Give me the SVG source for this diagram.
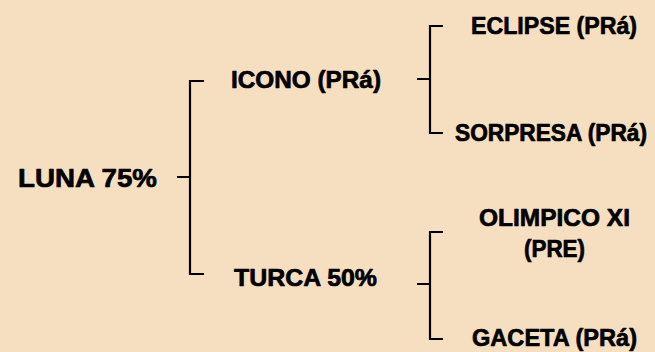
<svg xmlns="http://www.w3.org/2000/svg" width="655" height="352" viewBox="0 0 655 352">
<style>
.bg{fill:#F6DFC1}
.t{font-family:"Liberation Sans",Arial,sans-serif;font-weight:bold;fill:#000;font-size:24.5px;stroke:#000;stroke-width:0.7;stroke-linejoin:round}
.big{font-size:26px}
.sm{font-size:23px}
.ln{stroke:#000;stroke-width:2.2;fill:none;stroke-linecap:butt}
</style>
<rect class="bg" x="0" y="0" width="655" height="352"/>
<g id="connectors">
<path class="ln" d="M177,177 H190 M204,81 H190 V274 H204"/>
<path class="ln" d="M417,79 H430 M443,26 H430 V133 H443"/>
<path class="ln" d="M417,284 H430 M443,232 H430 V339 H443"/>
</g>
<g id="luna"><text class="t big" x="18" y="187" textLength="139" lengthAdjust="spacingAndGlyphs">LUNA 75%</text></g>
<g id="icono"><text class="t" x="231" y="88" textLength="150" lengthAdjust="spacingAndGlyphs">ICONO (PRá)</text></g>
<g id="turca"><text class="t" x="234" y="286" textLength="143" lengthAdjust="spacingAndGlyphs">TURCA 50%</text></g>
<g id="eclipse"><text class="t" x="471" y="34" textLength="166" lengthAdjust="spacingAndGlyphs">ECLIPSE (PRá)</text></g>
<g id="sorpresa"><text class="t sm" x="455" y="141" textLength="192" lengthAdjust="spacingAndGlyphs">SORPRESA (PRá)</text></g>
<g id="olimpico"><text class="t" x="479" y="226" textLength="151" lengthAdjust="spacingAndGlyphs">OLIMPICO XI</text><text class="t" x="524" y="257" textLength="61" lengthAdjust="spacingAndGlyphs">(PRE)</text></g>
<g id="gaceta"><text class="t" x="472" y="346" textLength="165" lengthAdjust="spacingAndGlyphs">GACETA (PRá)</text></g>
</svg>
